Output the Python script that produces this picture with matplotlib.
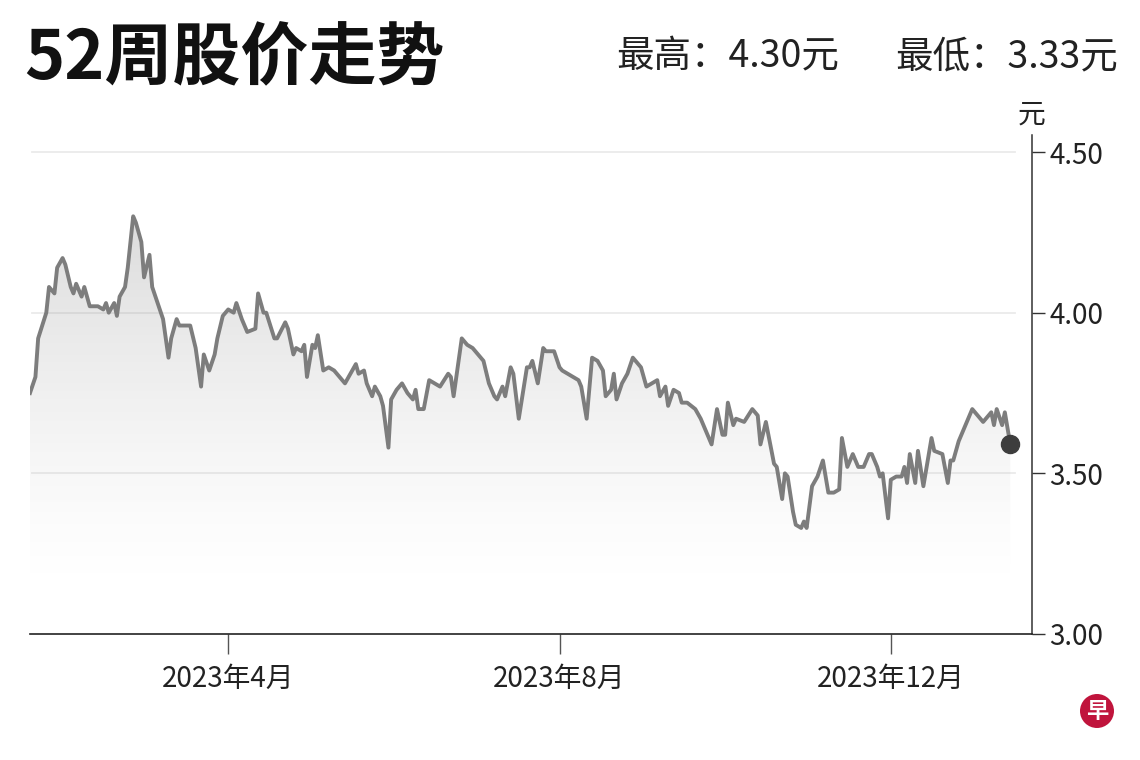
import numpy as np
import pandas as pd
import matplotlib
matplotlib.use("Agg")
import matplotlib.pyplot as plt
import matplotlib.dates as mdates
from matplotlib.patches import PathPatch, Circle
from matplotlib.transforms import IdentityTransform

plt.rcParams['font.family'] = ['Noto Sans CJK SC', 'DejaVu Sans']

title = "52周股价走势"
high_text = "最高：4.30元"
low_text = "最低：3.33元"
unit = "元"
logo = "早"

# prices
dates = [
    "2023-01-18", "2023-01-20", "2023-01-21", "2023-01-24", "2023-01-25", "2023-01-27",
    "2023-01-28", "2023-01-30", "2023-01-31", "2023-02-02", "2023-02-03", "2023-02-04",
    "2023-02-06", "2023-02-07", "2023-02-09", "2023-02-12", "2023-02-14", "2023-02-15",
    "2023-02-16", "2023-02-18", "2023-02-19", "2023-02-20", "2023-02-22", "2023-02-23",
    "2023-02-25", "2023-02-26", "2023-02-28", "2023-03-01", "2023-03-03", "2023-03-04",
    "2023-03-06", "2023-03-08", "2023-03-10", "2023-03-11", "2023-03-13", "2023-03-14",
    "2023-03-18", "2023-03-20", "2023-03-22", "2023-03-23", "2023-03-25", "2023-03-27",
    "2023-03-28", "2023-03-30", "2023-04-01", "2023-04-03", "2023-04-04", "2023-04-06",
    "2023-04-08", "2023-04-11", "2023-04-12", "2023-04-14", "2023-04-15", "2023-04-18",
    "2023-04-19", "2023-04-22", "2023-04-23", "2023-04-25", "2023-04-26", "2023-04-28",
    "2023-04-29", "2023-04-30", "2023-05-02", "2023-05-03", "2023-05-04", "2023-05-06",
    "2023-05-08", "2023-05-10", "2023-05-12", "2023-05-14", "2023-05-16", "2023-05-18",
    "2023-05-19", "2023-05-21", "2023-05-22", "2023-05-24", "2023-05-25", "2023-05-27",
    "2023-05-28", "2023-05-30", "2023-05-31", "2023-06-02", "2023-06-04", "2023-06-06",
    "2023-06-08", "2023-06-09", "2023-06-10", "2023-06-12", "2023-06-14", "2023-06-16",
    "2023-06-18", "2023-06-21", "2023-06-22", "2023-06-23", "2023-06-26", "2023-06-28",
    "2023-06-30", "2023-07-04", "2023-07-06", "2023-07-08", "2023-07-09", "2023-07-11",
    "2023-07-12", "2023-07-14", "2023-07-15", "2023-07-17", "2023-07-20", "2023-07-21",
    "2023-07-22", "2023-07-24", "2023-07-26", "2023-07-27", "2023-07-30", "2023-08-01",
    "2023-08-02", "2023-08-04", "2023-08-06", "2023-08-08", "2023-08-09", "2023-08-11",
    "2023-08-13", "2023-08-15", "2023-08-17", "2023-08-18", "2023-08-20", "2023-08-21",
    "2023-08-22", "2023-08-24", "2023-08-26", "2023-08-28", "2023-08-31", "2023-09-02",
    "2023-09-04", "2023-09-06", "2023-09-07", "2023-09-09", "2023-09-10", "2023-09-12",
    "2023-09-14", "2023-09-15", "2023-09-17", "2023-09-20", "2023-09-22", "2023-09-24",
    "2023-09-26", "2023-09-28", "2023-09-30", "2023-10-01", "2023-10-02", "2023-10-04",
    "2023-10-05", "2023-10-08", "2023-10-11", "2023-10-13", "2023-10-14", "2023-10-16",
    "2023-10-19", "2023-10-20", "2023-10-22", "2023-10-23", "2023-10-24", "2023-10-26",
    "2023-10-27", "2023-10-29", "2023-10-30", "2023-10-31", "2023-11-02", "2023-11-04",
    "2023-11-06", "2023-11-08", "2023-11-10", "2023-11-12", "2023-11-13", "2023-11-15",
    "2023-11-17", "2023-11-19", "2023-11-21", "2023-11-23", "2023-11-24", "2023-11-26",
    "2023-11-27", "2023-11-28", "2023-11-30", "2023-12-01", "2023-12-03", "2023-12-05",
    "2023-12-06", "2023-12-07", "2023-12-08", "2023-12-10", "2023-12-11", "2023-12-13",
    "2023-12-16", "2023-12-17", "2023-12-20", "2023-12-22", "2023-12-23", "2023-12-24",
    "2023-12-26", "2023-12-28", "2023-12-30", "2023-12-31", "2024-01-02", "2024-01-04",
    "2024-01-05", "2024-01-07", "2024-01-08", "2024-01-09", "2024-01-11", "2024-01-12",
    "2024-01-14",
]
prices = [
    3.75, 3.80, 3.92, 4.00, 4.08, 4.06, 4.14, 4.17, 4.15, 4.08, 4.06, 4.09,
    4.05, 4.08, 4.02, 4.02, 4.01, 4.03, 4.00, 4.03, 3.99, 4.05, 4.08, 4.14,
    4.30, 4.28, 4.22, 4.11, 4.18, 4.08, 4.03, 3.98, 3.86, 3.92, 3.98, 3.96,
    3.96, 3.89, 3.77, 3.87, 3.82, 3.87, 3.92, 3.99, 4.01, 4.00, 4.03, 3.98,
    3.94, 3.95, 4.06, 4.00, 4.00, 3.92, 3.92, 3.97, 3.95, 3.87, 3.89, 3.88,
    3.90, 3.80, 3.90, 3.89, 3.93, 3.82, 3.83, 3.82, 3.80, 3.78, 3.81, 3.84,
    3.81, 3.82, 3.78, 3.74, 3.77, 3.74, 3.71, 3.58, 3.73, 3.76, 3.78, 3.75,
    3.73, 3.76, 3.70, 3.70, 3.79, 3.78, 3.77, 3.81, 3.80, 3.74, 3.92, 3.90,
    3.89, 3.85, 3.78, 3.74, 3.73, 3.77, 3.74, 3.83, 3.81, 3.67, 3.83, 3.83,
    3.85, 3.78, 3.89, 3.88, 3.88, 3.83, 3.82, 3.81, 3.80, 3.79, 3.77, 3.67,
    3.86, 3.85, 3.82, 3.74, 3.76, 3.81, 3.73, 3.78, 3.81, 3.86, 3.83, 3.77,
    3.78, 3.79, 3.74, 3.77, 3.71, 3.76, 3.75, 3.72, 3.72, 3.70, 3.67, 3.63,
    3.59, 3.70, 3.62, 3.62, 3.72, 3.65, 3.67, 3.66, 3.70, 3.68, 3.59, 3.66,
    3.53, 3.52, 3.42, 3.50, 3.49, 3.38, 3.34, 3.33, 3.35, 3.33, 3.46, 3.49,
    3.54, 3.44, 3.44, 3.45, 3.61, 3.52, 3.56, 3.52, 3.52, 3.56, 3.56, 3.52,
    3.49, 3.50, 3.36, 3.48, 3.49, 3.49, 3.52, 3.47, 3.56, 3.47, 3.57, 3.46,
    3.61, 3.57, 3.56, 3.47, 3.54, 3.54, 3.60, 3.64, 3.68, 3.70, 3.68, 3.66,
    3.67, 3.69, 3.65, 3.70, 3.65, 3.69, 3.59,
]

tick_dates = ["2023-04-01", "2023-08-01", "2023-12-01"]
tick_labels = ["2023年4月", "2023年8月", "2023年12月"]
y_ticks = [3.00, 3.50, 4.00, 4.50]

x = pd.to_datetime(dates)
tx = pd.to_datetime(tick_dates)
x0, x1 = pd.Timestamp("2023-01-18"), pd.Timestamp("2024-01-22")
y0, y1 = 3.0, 4.553

fig = plt.figure(figsize=(11.4, 7.6), dpi=100)
ax = fig.add_axes([30/1140, 126/760, 1002/1140, 499/760])
ax.set_xlim(x0, x1)
ax.set_ylim(y0, y1)

# gradient fill under the line
fill = ax.fill_between(x, prices, y0, facecolor='none', edgecolor='none')
clip = PathPatch(fill.get_paths()[0], transform=ax.transData,
                 facecolor='none', edgecolor='none')
ax.add_patch(clip)
rgba = np.zeros((256, 1, 4))
rgba[..., :3] = 0.58
rgba[:, 0, 3] = 0.42 * np.linspace(0.0, 1.0, 256) ** 1.3
im = ax.imshow(rgba, extent=[mdates.date2num(x0), mdates.date2num(x1), 3.15, y1],
               origin='lower', aspect='auto', zorder=1)
im.set_clip_path(clip)

for v in y_ticks[1:]:
    ax.axhline(v, xmin=0.002, xmax=0.983, color='#ebebeb', lw=1.3, zorder=0)

ax.plot(x, prices, color='#7d7d7d', lw=2.8, solid_joinstyle='round', zorder=3)
ax.plot(x[-1], prices[-1], 'o', ms=13, color='#3d3d3d', zorder=4)

for s in ['top', 'left']:
    ax.spines[s].set_visible(False)
ax.spines['bottom'].set_color('#222222')
ax.spines['bottom'].set_linewidth(1.2)
ax.spines['right'].set_color('#333333')
ax.spines['right'].set_linewidth(1.1)

ax.yaxis.tick_right()
ax.set_yticks(y_ticks)
ax.set_yticklabels([f"{v:.2f}" for v in y_ticks])
ax.tick_params(axis='y', direction='out', length=9.5, width=1, pad=3,
               labelsize=20, color='#333333', labelcolor='#222222')
ax.set_xticks(tx)
ax.set_xticklabels(tick_labels)
ax.tick_params(axis='x', direction='out', length=14.5, width=1, pad=7,
               labelsize=20, color='#555555', labelcolor='#222222')

fig.text(1032/1140, 1 - 115/760, unit, ha='center', va='center', fontsize=20, color='#222222')
fig.text(24/1140, 1 - 60/760, title, ha='left', va='center', fontsize=49,
         fontweight='bold', color='#111111')
fig.text(616/1140, 1 - 57/760, high_text, ha='left', va='center', fontsize=27, color='#222222')
fig.text(1118/1140, 1 - 57/760, low_text, ha='right', va='center', fontsize=27, color='#222222')

fig.add_artist(Circle((1097, 760 - 711), 17, transform=IdentityTransform(),
                      facecolor='#c0143c', edgecolor='none'))
fig.text(1097/1140, 1 - 711/760, logo, ha='center', va='center', fontsize=16,
         fontweight='bold', color='white')

fig.savefig("out.png", dpi=100)
